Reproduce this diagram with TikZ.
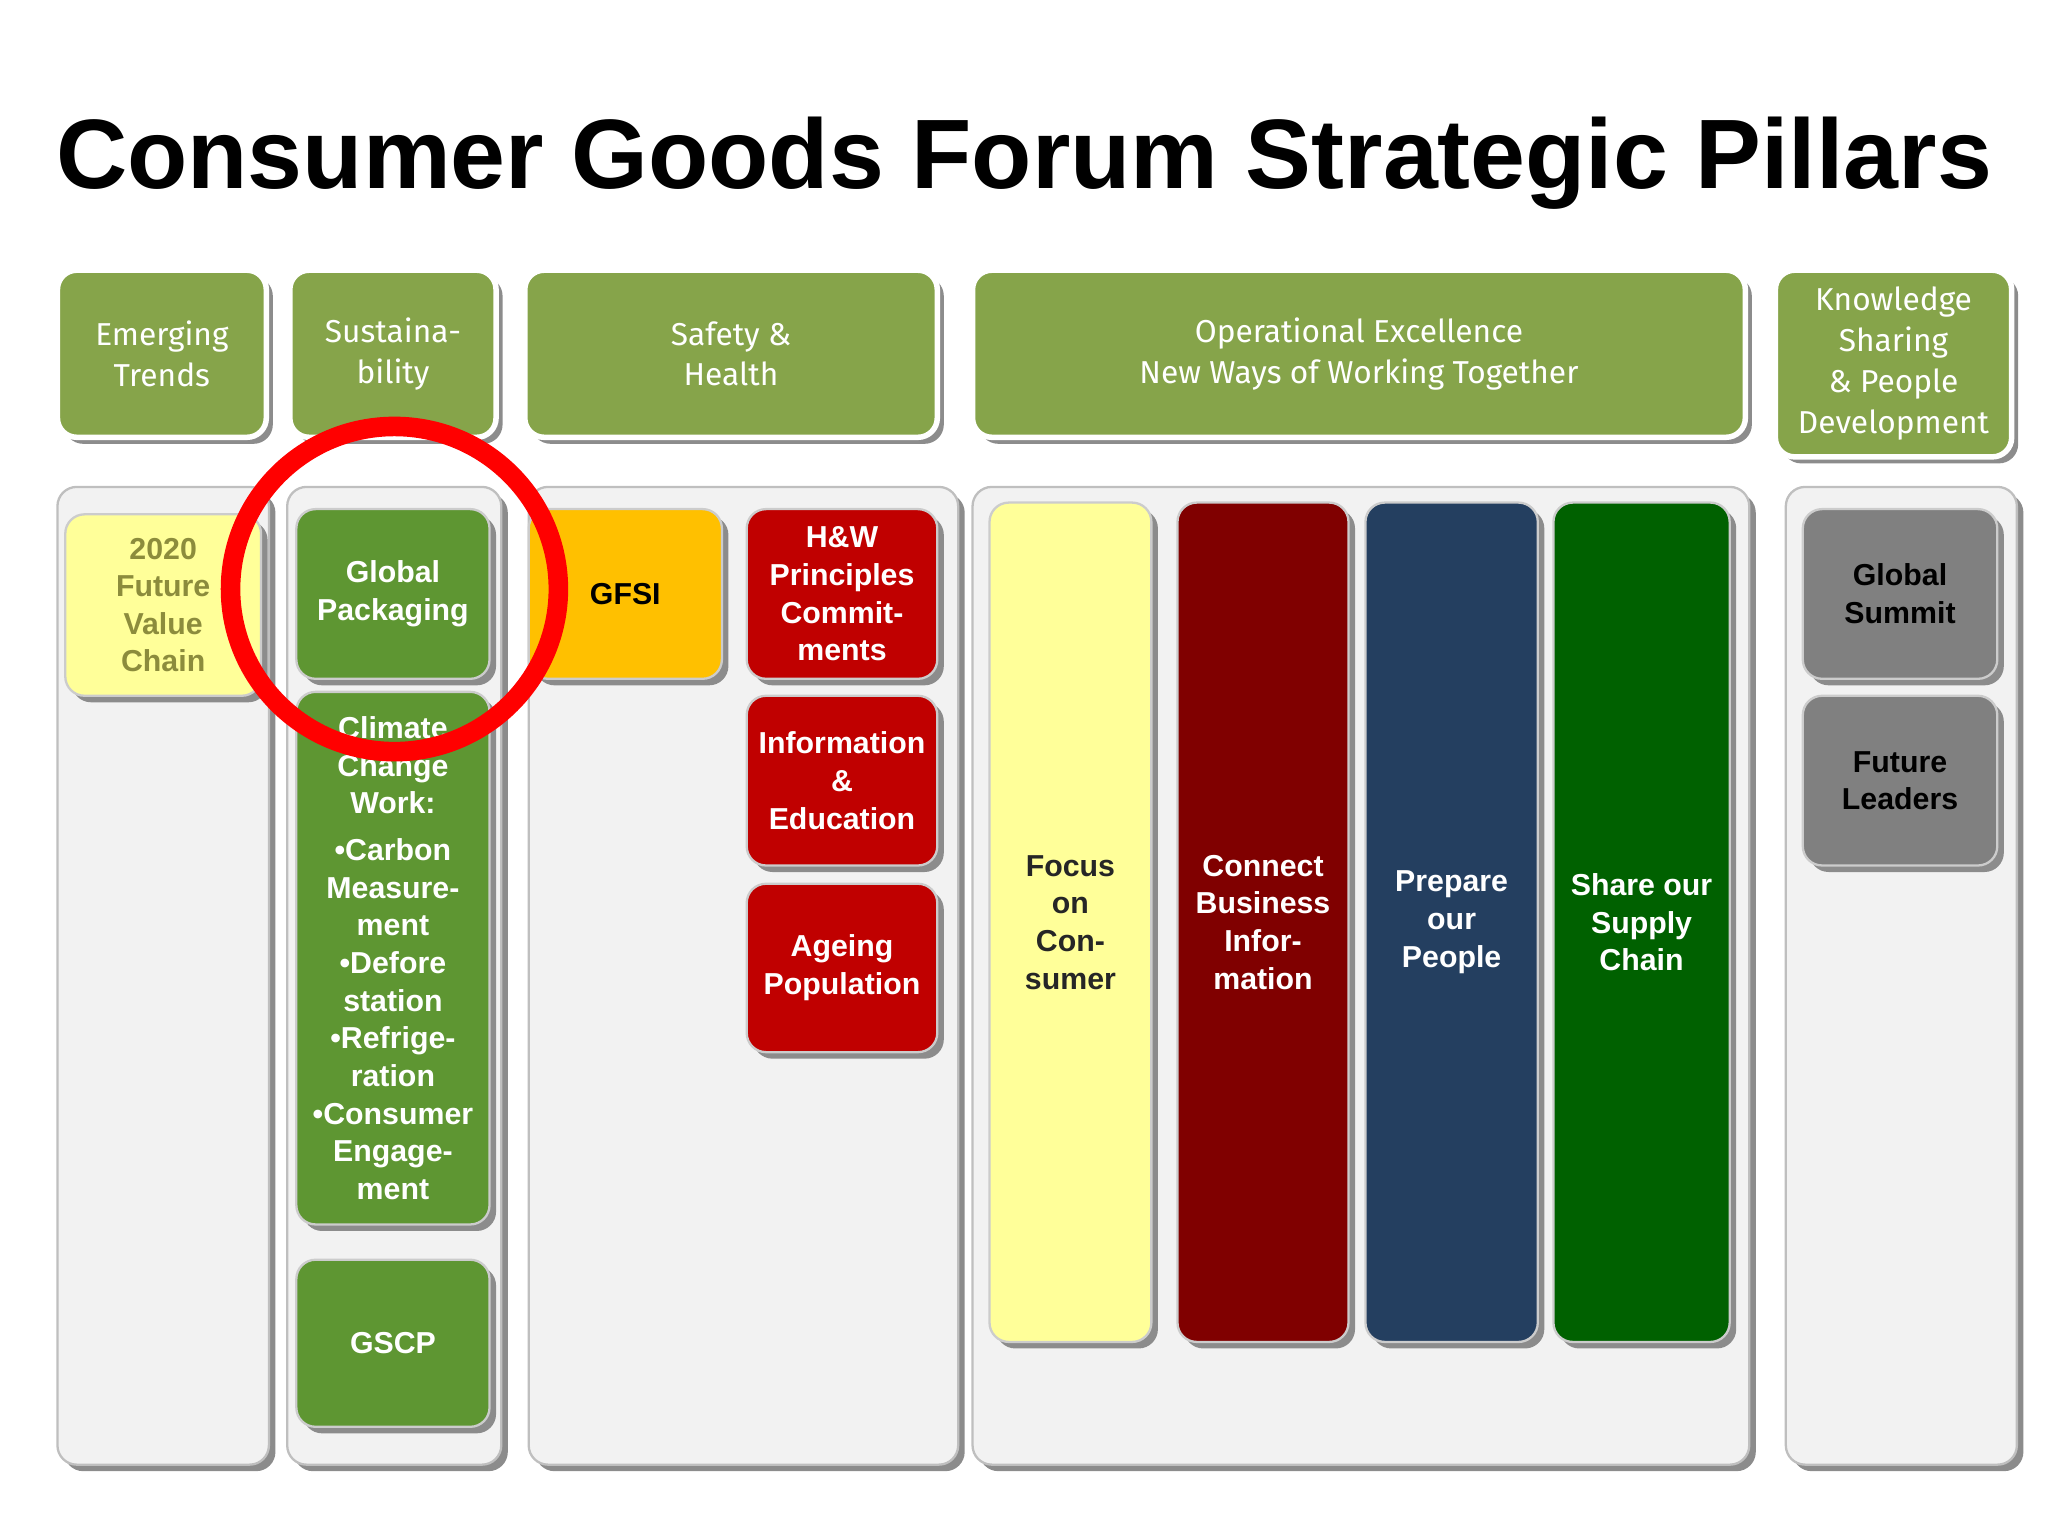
\documentclass[tikz,border=0pt]{standalone}
\usepackage{fontspec}
\setmainfont{Liberation Sans}
\newfontfamily\hdfont{Fira Sans}
\usetikzlibrary{shadows}
\definecolor{hdgreen}{HTML}{86A44A}
\definecolor{pgreen}{HTML}{5E9632}
\definecolor{pred}{HTML}{C00000}
\definecolor{dred}{HTML}{800000}
\definecolor{pnavy}{HTML}{243F60}
\definecolor{pdgreen}{HTML}{006100}
\definecolor{pyel}{HTML}{FFFF99}
\definecolor{pora}{HTML}{FFC000}
\definecolor{pgray}{HTML}{808080}
\definecolor{olivetxt}{HTML}{8C8C3C}
\definecolor{bgcol}{HTML}{F2F2F2}
\tikzset{
 base/.style={rounded corners=12pt*0.35, inner sep=0pt, outer sep=0pt, align=center,
   drop shadow={shadow xshift=0.05cm, shadow yshift=-0.05cm, fill=black!45, opacity=1}},
 hd/.style={base, fill=hdgreen, draw=white, line width=1.2pt, text=white, font=\hdfont\fontsize{6.9}{8.9}\selectfont},
 colbg/.style={base, fill=bgcol, draw=black!25, line width=0.5pt},
 bxs/.style={base, draw=white!80!black, line width=0.5pt, font=\bfseries\fontsize{6.6}{8.2}\selectfont},
}
\newcommand{\bx}[7]{\node[#6, minimum width={(#4-#2)*0.01cm}, minimum height={(#5-#3)*0.01cm}] (#1) at ({(#2+#4)/2*0.01},{-(#3+#5)/2*0.01}) {#7};}
\begin{document}
\begin{tikzpicture}
\useasboundingbox (0,0) rectangle (15.68,-11.76);
\node[font=\bfseries\fontsize{21.5}{24}\selectfont] (title) at (7.84,-1.25) {Consumer Goods Forum Strategic Pillars};
% headers
\bx{h1}{44}{207}{204}{335}{hd}{Emerging\\Trends}
\bx{h2}{222}{207}{380}{335}{hd}{Sustaina-\\bility}
\bx{h3}{402}{207}{718}{335}{hd}{Safety \&\\Health}
\bx{h4}{745}{207}{1337}{335}{hd}{Operational Excellence\\New Ways of Working Together}
\bx{h5}{1360}{207}{1541}{350}{hd}{Knowledge\\Sharing\\\& People\\Development}
% columns
\bx{c1}{44}{373}{206}{1122}{colbg}{}
\bx{c2}{220}{373}{384}{1122}{colbg}{}
\bx{c3}{405}{373}{734}{1122}{colbg}{}
\bx{c4}{745}{373}{1340}{1122}{colbg}{}
\bx{c5}{1368}{373}{1545}{1122}{colbg}{}
% boxes
\bx{fvc}{50}{394}{200}{533}{bxs,fill=pyel,text=olivetxt}{2020\\Future\\Value\\Chain}
\bx{gp}{227}{390}{375}{520}{bxs,fill=pgreen,text=white}{Global\\Packaging}
\bx{cc}{227}{530}{375}{938}{bxs,fill=pgreen,text=white}{Climate\\Change\\Work:\\[2pt]•Carbon\\Measure-\\ment\\•Defore\\station\\•Refrige-\\ration\\•Consumer\\Engage-\\ment}
\bx{gscp}{227}{965}{375}{1093}{bxs,fill=pgreen,text=white}{GSCP}
\bx{gfsi}{405}{390}{553}{520}{bxs,fill=pora,text=black}{GFSI}
\bx{hw}{572}{390}{718}{520}{bxs,fill=pred,text=white}{H\&W\\Principles\\Commit-\\ments}
\bx{ie}{572}{533}{718}{663}{bxs,fill=pred,text=white}{Information\\\&\\Education}
\bx{ap}{572}{677}{718}{806}{bxs,fill=pred,text=white}{Ageing\\Population}
\bx{fc}{758}{385}{882}{1028}{bxs,fill=pyel,text=black!85}{Focus\\on\\Con-\\sumer}
\bx{cb}{902}{385}{1033}{1028}{bxs,fill=dred,text=white}{Connect\\Business\\Infor-\\mation}
\bx{pp}{1046}{385}{1178}{1028}{bxs,fill=pnavy,text=white}{Prepare\\our\\People}
\bx{ss}{1190}{385}{1325}{1028}{bxs,fill=pdgreen,text=white}{Share our\\Supply\\Chain}
\bx{gs}{1381}{390}{1530}{520}{bxs,fill=pgray,text=black}{Global\\Summit}
\bx{fl}{1381}{533}{1530}{663}{bxs,fill=pgray,text=black}{Future\\Leaders}
% highlight circle
\draw[red, line width=0.15cm] (3.02,-4.51) ellipse (1.255 and 1.245);
\end{tikzpicture}
\end{document}
